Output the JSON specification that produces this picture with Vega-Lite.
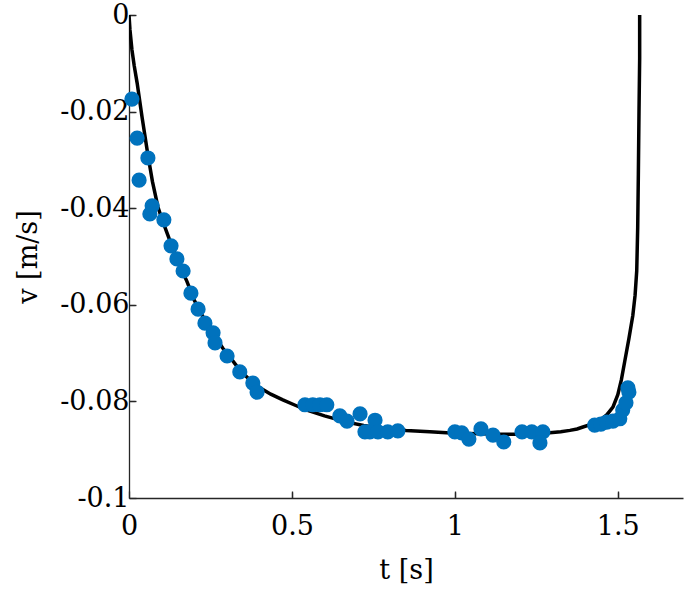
{
  "$schema": "https://vega.github.io/schema/vega-lite/v6.json",
  "width": 554,
  "height": 483,
  "autosize": {"type": "none"},
  "padding": {"left": 129, "top": 15, "right": 2, "bottom": 91},
  "background": "white",
  "config": {
    "view": {"stroke": null},
    "font": "DejaVu Serif",
    "axis": {
      "grid": false,
      "domainColor": "#262626",
      "domainWidth": 1.3,
      "tickColor": "#262626",
      "tickWidth": 1.3,
      "labelFont": "DejaVu Serif",
      "titleFont": "DejaVu Serif",
      "labelFontSize": 27,
      "titleFontSize": 27,
      "titleFontWeight": "normal",
      "labelColor": "#000000",
      "titleColor": "#000000"
    }
  },
  "resolve": {"axis": {"x": "independent", "y": "independent"}},
  "datasets": {
    "curve": [
      {"t": 0.0, "v": 0.0},
      {"t": 0.003, "v": -0.0031},
      {"t": 0.009, "v": -0.0072},
      {"t": 0.016, "v": -0.0105},
      {"t": 0.025, "v": -0.0141},
      {"t": 0.04, "v": -0.0211},
      {"t": 0.058, "v": -0.0290},
      {"t": 0.072, "v": -0.0345},
      {"t": 0.089, "v": -0.0398},
      {"t": 0.105, "v": -0.0430},
      {"t": 0.126, "v": -0.0468},
      {"t": 0.15, "v": -0.0510},
      {"t": 0.178, "v": -0.0552},
      {"t": 0.2, "v": -0.0590},
      {"t": 0.227, "v": -0.0625},
      {"t": 0.26, "v": -0.0662},
      {"t": 0.288, "v": -0.0690},
      {"t": 0.315, "v": -0.0713},
      {"t": 0.34, "v": -0.0735},
      {"t": 0.37, "v": -0.0755},
      {"t": 0.402, "v": -0.0772},
      {"t": 0.435, "v": -0.0785},
      {"t": 0.472, "v": -0.0797},
      {"t": 0.51, "v": -0.0808},
      {"t": 0.546, "v": -0.0818},
      {"t": 0.6, "v": -0.0830},
      {"t": 0.669, "v": -0.0843},
      {"t": 0.72, "v": -0.0850},
      {"t": 0.77, "v": -0.0855},
      {"t": 0.85, "v": -0.0860},
      {"t": 0.923, "v": -0.0863},
      {"t": 1.0, "v": -0.0866},
      {"t": 1.077, "v": -0.0867},
      {"t": 1.14, "v": -0.0868},
      {"t": 1.199, "v": -0.0868},
      {"t": 1.25, "v": -0.0867},
      {"t": 1.291, "v": -0.0865},
      {"t": 1.325, "v": -0.0863},
      {"t": 1.353, "v": -0.0860},
      {"t": 1.375, "v": -0.0857},
      {"t": 1.393, "v": -0.0853},
      {"t": 1.42, "v": -0.0847},
      {"t": 1.445, "v": -0.0839},
      {"t": 1.466, "v": -0.0828},
      {"t": 1.485, "v": -0.0812},
      {"t": 1.5, "v": -0.0786},
      {"t": 1.511, "v": -0.0755},
      {"t": 1.521, "v": -0.0718},
      {"t": 1.534, "v": -0.0670},
      {"t": 1.546, "v": -0.0622},
      {"t": 1.553, "v": -0.0580},
      {"t": 1.558, "v": -0.0530},
      {"t": 1.561, "v": -0.0440},
      {"t": 1.563, "v": -0.0330},
      {"t": 1.565, "v": -0.0200},
      {"t": 1.567, "v": -0.0090},
      {"t": 1.567, "v": 0.0}
    ],
    "pts": [
      {"t": 0.009, "v": -0.0174},
      {"t": 0.025, "v": -0.0255},
      {"t": 0.058, "v": -0.0296},
      {"t": 0.031, "v": -0.0342},
      {"t": 0.071, "v": -0.0395},
      {"t": 0.064, "v": -0.0412},
      {"t": 0.107, "v": -0.0424},
      {"t": 0.129, "v": -0.0478},
      {"t": 0.147, "v": -0.0505},
      {"t": 0.166, "v": -0.0530},
      {"t": 0.19, "v": -0.0576},
      {"t": 0.212, "v": -0.0609},
      {"t": 0.233, "v": -0.0638},
      {"t": 0.258, "v": -0.0658},
      {"t": 0.264, "v": -0.0679},
      {"t": 0.301, "v": -0.0706},
      {"t": 0.34, "v": -0.0739},
      {"t": 0.38, "v": -0.0762},
      {"t": 0.393, "v": -0.0781},
      {"t": 0.54, "v": -0.0807},
      {"t": 0.564, "v": -0.0807},
      {"t": 0.586, "v": -0.0807},
      {"t": 0.607, "v": -0.0807},
      {"t": 0.647, "v": -0.0830},
      {"t": 0.669, "v": -0.0841},
      {"t": 0.709, "v": -0.0826},
      {"t": 0.755, "v": -0.0839},
      {"t": 0.724, "v": -0.0863},
      {"t": 0.739, "v": -0.0863},
      {"t": 0.764, "v": -0.0863},
      {"t": 0.794, "v": -0.0863},
      {"t": 0.825, "v": -0.0861},
      {"t": 1.0, "v": -0.0863},
      {"t": 1.021, "v": -0.0865},
      {"t": 1.043, "v": -0.0878},
      {"t": 1.08, "v": -0.0857},
      {"t": 1.117, "v": -0.0870},
      {"t": 1.15, "v": -0.0884},
      {"t": 1.206, "v": -0.0863},
      {"t": 1.236, "v": -0.0863},
      {"t": 1.27, "v": -0.0863},
      {"t": 1.261, "v": -0.0886},
      {"t": 1.429, "v": -0.0849},
      {"t": 1.448, "v": -0.0847},
      {"t": 1.466, "v": -0.0843},
      {"t": 1.485, "v": -0.0841},
      {"t": 1.506, "v": -0.0836},
      {"t": 1.515, "v": -0.0818},
      {"t": 1.525, "v": -0.0803},
      {"t": 1.534, "v": -0.0781},
      {"t": 1.531, "v": -0.0772}
    ]
  },
  "layer": [
    {
      "data": {"name": "curve"},
      "mark": {"type": "line", "color": "#000000", "strokeWidth": 3.5, "interpolate": "linear", "clip": true},
      "encoding": {
        "x": {"field": "t", "type": "quantitative",
          "scale": {"domain": [0, 1.7], "nice": false, "zero": false},
          "axis": {"title": "t [s]", "values": [0, 0.5, 1, 1.5], "labelExpr": "format(datum.value, '~g')", "labelPadding": 22, "titlePadding": 18, "labelFlush": false, "tickSize": -7}},
        "y": {"field": "v", "type": "quantitative",
          "scale": {"domain": [-0.1, 0], "nice": false, "zero": false},
          "axis": {"title": "v [m/s]", "values": [-0.1, -0.08, -0.06, -0.04, -0.02, 0], "labelExpr": "datum.value == 0 ? '0' : '-' + format(abs(datum.value), '.2~f')", "labelPadding": 7, "titlePadding": 17, "labelFlush": false, "tickSize": -7}}
      }
    },
    {
      "data": {"name": "pts"},
      "mark": {"type": "point", "filled": true, "color": "#0072BD", "opacity": 1, "size": 230},
      "encoding": {
        "x": {"field": "t", "type": "quantitative",
          "axis": {"orient": "top", "offset": -483, "values": [0.5, 1, 1.5], "labels": false, "domain": false, "title": null, "tickSize": 6, "ticks": true}},
        "y": {"field": "v", "type": "quantitative",
          "axis": {"orient": "right", "offset": -554, "values": [-0.08, -0.06, -0.04, -0.02, 0], "labels": false, "domain": false, "title": null, "tickSize": 6, "ticks": true}}
      }
    }
  ]
}
